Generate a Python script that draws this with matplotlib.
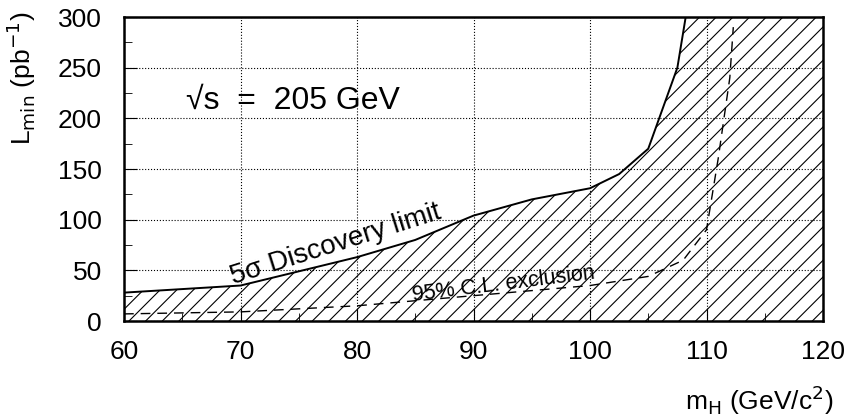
import matplotlib
matplotlib.use("Agg")
from matplotlib import pyplot as plt
from matplotlib.ticker import MultipleLocator

plt.rcParams['font.family'] = ['Liberation Sans', 'DejaVu Sans']
plt.rcParams['hatch.linewidth'] = 0.8

# 5 sigma discovery limit
m_desc = [60, 70, 80, 85, 90, 95, 100, 102.5, 105, 107.5, 108.5]
l_desc = [28, 35, 63, 80, 104, 120, 131, 145, 170, 250, 320]

# 95% C.L. exclusion
m_excl = [60, 70, 80, 90, 100, 105, 108, 110, 111, 112, 112.3]
l_excl = [7, 9, 15, 25, 35, 44, 60, 90, 160, 240, 290]

fig = plt.figure(figsize=(8.51, 4.19), dpi=100)
ax = fig.add_axes([124/851, 1 - 321/419, (823-124)/851, (321-17)/419])

# zona tracejada: abaixo da curva e a direita
px = m_desc + [120, 120, 60]
py = l_desc + [320, 0, 0]
ax.fill(px, py, facecolor='none', edgecolor='black', hatch='//', linewidth=0)

ax.plot(m_desc, l_desc, color='black', lw=1.4)
ax.plot(m_excl, l_excl, color='black', lw=1.0, ls=(0, (7, 5)))

ax.set_xlim(60, 120)
ax.set_ylim(0, 300)
ax.xaxis.set_major_locator(MultipleLocator(10))
ax.xaxis.set_minor_locator(MultipleLocator(5))
ax.yaxis.set_major_locator(MultipleLocator(50))
ax.yaxis.set_minor_locator(MultipleLocator(25))
ax.tick_params(which='both', direction='in', top=False, right=False, labelsize=19)
ax.tick_params(axis='x', pad=14)
ax.tick_params(axis='y', pad=16)
ax.tick_params(which='major', length=9)
ax.tick_params(which='minor', length=6)
ax.grid(True, which='major', ls=':', color='black', lw=0.8)
for s in ax.spines.values():
    s.set_linewidth(1.8)

ax.text(65.3, 217, '√s  =  205 GeV', fontsize=23, va='center')
ax.text(69.4, 36, '5σ Discovery limit', fontsize=20, rotation=17.5, rotation_mode='anchor')
ax.text(84.8, 20, '95% C.L. exclusion', fontsize=15.5, rotation=7, rotation_mode='anchor')

fig.text(833/851, 1 - 400/419, r'm$_{\mathrm{H}}$ (GeV/c$^2$)', fontsize=19, ha='right', va='center')
fig.text(0.005, 1 - 12/419, r'L$_{\mathrm{min}}$ (pb$^{-1}$)', fontsize=19, rotation=90, ha='left', va='top')

fig.savefig('out.png', dpi=100)
